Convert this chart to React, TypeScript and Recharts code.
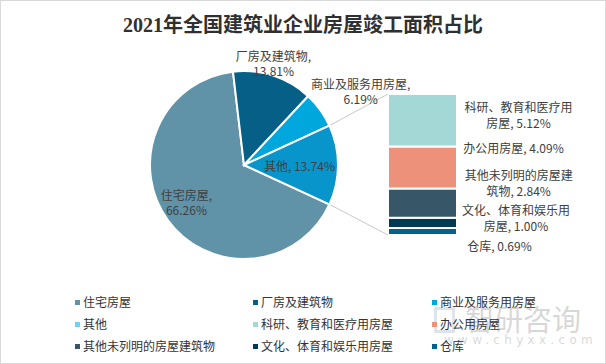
import React from 'react';
import { PieChart, Pie, Cell, BarChart, Bar, XAxis, YAxis, LabelList } from 'recharts';

const title = '2021年全国建筑业企业房屋竣工面积占比';

const mainNames = ['住宅房屋', '厂房及建筑物', '商业及服务用房屋', '其他'];
const mainValues = [66.26, 13.81, 6.19, 13.74];
const mainColors = ['#6193A8', '#065F86', '#00A7DC', '#0895CB'];

const subNames = ['科研、教育和医疗用房屋', '办公用房屋', '其他未列明的房屋建筑物', '文化、体育和娱乐用房屋', '仓库'];
const subValues = [5.12, 4.09, 2.84, 1.0, 0.69];
const subColors = ['#A3D8D6', '#EE917A', '#375667', '#013A52', '#05628B'];

const legendNames = [
  '住宅房屋', '厂房及建筑物', '商业及服务用房屋',
  '其他', '科研、教育和医疗用房屋', '办公用房屋',
  '其他未列明的房屋建筑物', '文化、体育和娱乐用房屋', '仓库',
];
const legendColors = [
  '#6193A8', '#065F86', '#00A7DC',
  '#6ED2F6', '#A3D8D6', '#EE917A',
  '#375667', '#013A52', '#05628B',
];

// label placement tweaks (not data)
const pieLabelRadius = [0.73, 1.13, 1.47, 0.59];
const pieLabelAngleShift = [-3, 2, -3.5, 0];
const barLabelDx = [130.5, 125.5, 130.7, 128, 111.5];
const barLabelDy = [-6, -20, -21, -5, 14];

const PIE_CX = 244;
const PIE_CY = 165;
const PIE_R = 94;
const BAR_LEFT = 388;
const BAR_TOP = 94;
const BAR_W = 69;
const BAR_H = 141;

const RAD = Math.PI / 180;
const FONT = "'Noto Sans CJK SC', 'Noto Sans', sans-serif";
const TXT = '#404040';

const pieData = mainNames.map((n, i) => ({ name: n, value: mainValues[i] }));
const otherIdx = 3;
const otherHalf = (mainValues[otherIdx] / mainValues.reduce((a, b) => a + b, 0)) * 180;
const startAngle = -otherHalf;
const endAngle = startAngle - 360;

const subTotal = subValues.reduce((a, b) => a + b, 0);
const barRow: Record<string, number | string> = { name: 'other' };
subValues.forEach((v, i) => { barRow['s' + i] = v; });
const barData = [barRow];

const fmt = (v: number) => v.toFixed(2) + '%';

const renderPieLabel = (props: any) => {
  const { midAngle, index } = props;
  const a = (midAngle + pieLabelAngleShift[index]) * RAD;
  const r = PIE_R * pieLabelRadius[index];
  const x = PIE_CX + r * Math.cos(-a);
  const y = PIE_CY + r * Math.sin(-a);
  const name = mainNames[index];
  const val = fmt(mainValues[index]);
  if (index === otherIdx) {
    return (
      <text x={x} y={y} textAnchor="middle" dominantBaseline="central" fill={TXT} fontSize={12} fontFamily={FONT}>
        {name + ', ' + val}
      </text>
    );
  }
  return (
    <text x={x} y={y} textAnchor="middle" fill={TXT} fontSize={12} fontFamily={FONT}>
      <tspan x={x} dy={-7.5} dominantBaseline="central">{name + ','}</tspan>
      <tspan x={x} dy={15} dominantBaseline="central">{val}</tspan>
    </text>
  );
};

const makeBarLabel = (i: number) => (props: any) => {
  const { x, y, height } = props;
  const full = subNames[i] + ', ' + fmt(subValues[i]);
  const lines = full.length > 12 ? [full.slice(0, 9), full.slice(9)] : [full];
  const cx = Number(x) + barLabelDx[i];
  const cy = Number(y) + Number(height) / 2 + barLabelDy[i];
  const start = cy - ((lines.length - 1) * 16) / 2;
  return (
    <text textAnchor="middle" fill={TXT} fontSize={12} fontFamily={FONT}>
      {lines.map((l, k) => (
        <tspan key={k} x={cx} y={start + k * 16} dominantBaseline="central">{l}</tspan>
      ))}
    </text>
  );
};

export default function App() {
  const a1 = startAngle * RAD;
  const p1 = { x: PIE_CX + PIE_R * Math.cos(-a1), y: PIE_CY + PIE_R * Math.sin(-a1) };
  const a2 = (startAngle + 2 * otherHalf) * RAD;
  const p2 = { x: PIE_CX + PIE_R * Math.cos(-a2), y: PIE_CY + PIE_R * Math.sin(-a2) };

  return (
    <div style={{ position: 'absolute', left: 0, top: 0, width: 606, height: 364, background: '#fff', border: '1px solid #D9D9D9', boxSizing: 'border-box', overflow: 'hidden', fontFamily: FONT }}>
      <div style={{ position: 'absolute', left: 0, top: 10, width: 604, textAlign: 'center', fontSize: 20, fontWeight: 'bold', color: '#303030', fontFamily: "'Liberation Serif', 'Noto Sans CJK SC', serif", lineHeight: '28px' }}>
        {title}
      </div>

      <svg width={606} height={364} style={{ position: 'absolute', left: -1, top: -1 }}>
        <line x1={p2.x} y1={p2.y} x2={BAR_LEFT} y2={BAR_TOP} stroke="#C8C8C8" strokeWidth={1} />
        <line x1={p1.x} y1={p1.y} x2={BAR_LEFT} y2={BAR_TOP + BAR_H} stroke="#C8C8C8" strokeWidth={1} />
      </svg>

      <div style={{ position: 'absolute', left: -1, top: -1 }}>
        <PieChart width={606} height={364} margin={{ top: 0, right: 0, bottom: 0, left: 0 }}>
          <Pie
            data={pieData}
            dataKey="value"
            nameKey="name"
            cx={PIE_CX}
            cy={PIE_CY}
            outerRadius={PIE_R}
            startAngle={startAngle}
            endAngle={endAngle}
            stroke="#fff"
            strokeWidth={2}
            label={renderPieLabel}
            labelLine={false}
            isAnimationActive={false}
          >
            {pieData.map((d, i) => (
              <Cell key={d.name} fill={mainColors[i]} />
            ))}
          </Pie>
        </PieChart>
      </div>

      <div style={{ position: 'absolute', left: BAR_LEFT - 1, top: BAR_TOP - 11 }}>
        <BarChart
          width={218}
          height={BAR_H + 40}
          data={barData}
          margin={{ top: 10, right: 218 - BAR_W, bottom: 30, left: 0 }}
          barCategoryGap={0}
          barGap={0}
          style={{ overflow: 'visible' }}
        >
          <XAxis dataKey="name" hide />
          <YAxis type="number" domain={[0, subTotal]} hide />
          {subValues.map((_, k) => {
            const i = subValues.length - 1 - k;
            return (
              <Bar key={i} dataKey={'s' + i} stackId="a" fill={subColors[i]} stroke="#fff" strokeWidth={2} isAnimationActive={false}>
                <LabelList dataKey={'s' + i} content={makeBarLabel(i)} />
              </Bar>
            );
          })}
        </BarChart>
      </div>

      <div style={{ position: 'absolute', left: 433, top: 306, width: 21, height: 26, border: '3px solid rgba(150,165,190,0.3)', boxSizing: 'border-box' }} />
      <div style={{ position: 'absolute', left: 464, top: 300, color: 'rgba(150,150,150,0.38)', fontSize: 29, lineHeight: '34px', whiteSpace: 'nowrap' }}>
        智研咨询
      </div>
      <div style={{ position: 'absolute', left: 443, top: 332, color: 'rgba(150,150,150,0.38)', fontSize: 12, letterSpacing: 4.3, lineHeight: '14px', whiteSpace: 'nowrap', fontFamily: "'DejaVu Sans', sans-serif" }}>
        www.chyxx.com
      </div>

      <div style={{ position: 'absolute', left: 0, top: 290 }}>
        {legendNames.map((n, i) => {
          const col = i % 3;
          const row = Math.floor(i / 3);
          const left = [74, 252, 431][col];
          const top = row * 22;
          return (
            <div key={n} style={{ position: 'absolute', left, top, height: 22, display: 'flex', alignItems: 'center', whiteSpace: 'nowrap' }}>
              <span style={{ display: 'inline-block', width: 5, height: 5, background: legendColors[i], marginRight: 3 }} />
              <span style={{ fontSize: 12, color: '#333', lineHeight: '22px' }}>{n}</span>
            </div>
          );
        })}
      </div>
    </div>
  );
}
